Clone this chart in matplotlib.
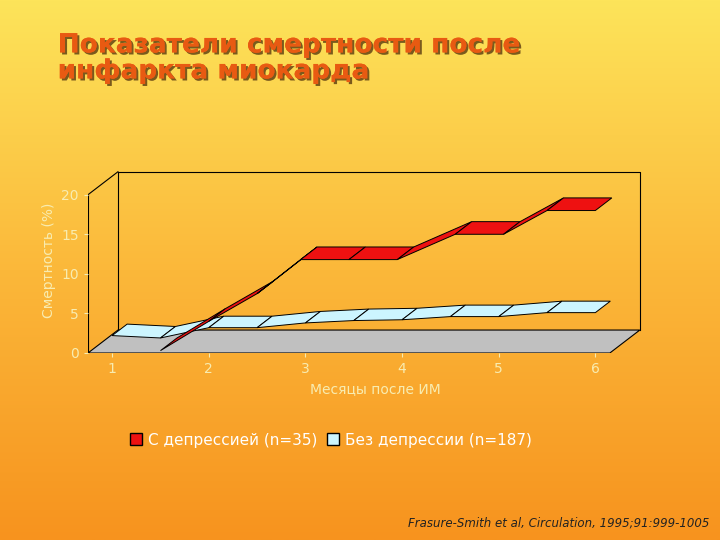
import numpy as np
import matplotlib.pyplot as plt
from matplotlib.patches import Polygon, Patch
from matplotlib.colors import LinearSegmentedColormap
import matplotlib.patheffects as pe

months = [1, 2, 3, 4, 5, 6]
yticks = [0, 5, 10, 15, 20]

red_x = [1.5, 2.0, 2.5, 2.95, 3.45, 3.95, 4.55, 5.05, 5.5, 6.0]
red_y = [0.3, 4.0, 7.5, 11.8, 11.8, 11.8, 15.0, 15.0, 18.0, 18.0]

blue_x = [1.0, 1.5, 2.0, 2.5, 3.0, 3.5, 4.0, 4.5, 5.0, 5.5, 6.0]
blue_y = [2.2, 1.9, 3.2, 3.2, 3.8, 4.1, 4.2, 4.6, 4.6, 5.1, 5.1]

fig = plt.figure(figsize=(7.2, 5.4), dpi=100)

# background gradient
bg = fig.add_axes([0, 0, 1, 1])
grad = np.linspace(0, 1, 256).reshape(-1, 1)
cmap = LinearSegmentedColormap.from_list("bg", ["#fde45a", "#fbb83a", "#f7931e"])
bg.imshow(grad, aspect="auto", cmap=cmap, extent=[0, 1, 0, 1])
bg.axis("off")

ax = fig.add_axes([88 / 720, 1 - 353 / 540, (663 - 88) / 720, (353 - 167) / 540])
ax.set_xlim(0.75, 6.7)
ax.set_ylim(0, 23.5)
ax.patch.set_alpha(0)
for s in ax.spines.values():
    s.set_visible(False)

dx, dy = 0.31, 2.9
x0, x1 = 0.75, 6.15
# floor
ax.add_patch(Polygon([(x0, 0), (x1, 0), (x1 + dx, dy), (x0 + dx, dy)],
                     closed=True, fc="#c0c0c0", ec="black", lw=0.8, zorder=1))
# back wall and side lines
ax.plot([x0 + dx, x0 + dx, x1 + dx, x1 + dx], [dy, 20 + dy, 20 + dy, dy], color="black", lw=0.8, zorder=1)
ax.plot([x0, x0 + dx], [20, 20 + dy], color="black", lw=0.8, zorder=1)
ax.plot([x0, x0], [0, 20], color="black", lw=0.8, zorder=1)


def ribbon(xs, ys, fc, depth):
    for i in range(len(xs) - 1):
        p = [(xs[i], ys[i]), (xs[i + 1], ys[i + 1]),
             (xs[i + 1] + dx * depth, ys[i + 1] + dy * depth),
             (xs[i] + dx * depth, ys[i] + dy * depth)]
        ax.add_patch(Polygon(p, closed=True, fc=fc, ec="black", lw=0.7, zorder=3))


ribbon(blue_x, blue_y, "#ccf5ff", 0.5)
ribbon(red_x, red_y, "#ee1111", 0.55)

ax.set_xticks(months)
ax.set_yticks(yticks)
ax.tick_params(colors="#f8ecb0", labelsize=10, length=3)
ax.set_xlabel("Месяцы после ИМ", color="#f8ecb0", fontsize=10)
ax.set_ylabel("Смертность (%)", color="#f8ecb0", fontsize=10)

fig.text(0.08, 0.94, "Показатели смертности после\nинфаркта миокарда", fontsize=19,
         fontweight="bold", color="#e85a12", va="top", linespacing=1.0,
         path_effects=[pe.withSimplePatchShadow(offset=(1.5, -1.5), shadow_rgbFace="#5a3a10", alpha=0.8),
                       pe.Normal()])

handles = [Patch(fc="#ee1111", ec="black"), Patch(fc="#ccf5ff", ec="black")]
leg = fig.legend(handles, ["С депрессией (n=35)", "Без депрессии (n=187)"], loc="center",
                 bbox_to_anchor=(0.46, 0.185), ncol=2, frameon=False, fontsize=11,
                 handlelength=0.8, handleheight=0.8, columnspacing=0.6, handletextpad=0.4)
for t in leg.get_texts():
    t.set_color("white")

fig.text(0.985, 0.025, "Frasure-Smith et al, Circulation, 1995;91:999-1005", fontsize=8.5,
         style="italic", ha="right", color="#222222")

fig.savefig("out.png", dpi=100)
